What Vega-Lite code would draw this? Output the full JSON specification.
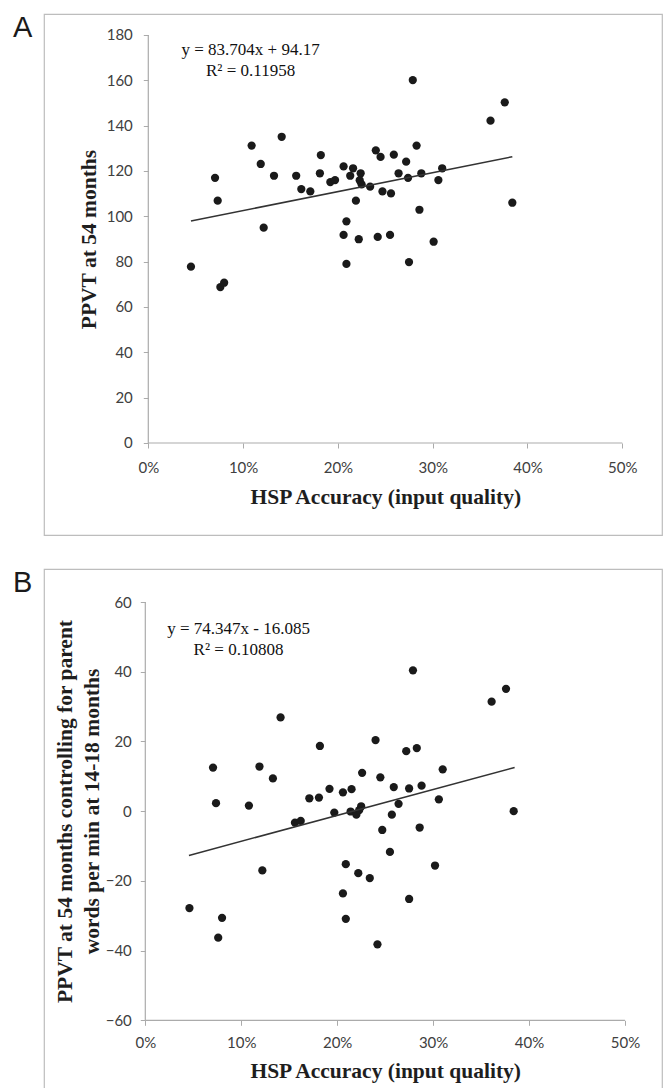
{
  "$schema": "https://vega.github.io/schema/vega-lite/v6.json",
  "padding": {"left": 12, "top": 13, "right": 5, "bottom": 2},
  "background": "white",
  "spacing": 32,
  "config": {
    "view": {"stroke": "#bdbdbd", "strokeWidth": 1.2},
    "axis": {
      "grid": false, "domain": false, "tickColor": "#ababab", "tickSize": 5, "tickWidth": 1,
      "labelFont": "Lato", "labelFontSize": 15, "labelColor": "#404040",
      "titleFont": "Liberation Serif", "titleFontWeight": "bold", "titleFontSize": 21.5, "titleColor": "#1e1e1e"
    }
  },
  "datasets": {
    "ptsA": [
      {"x":0.0704,"y":117.0},{"x":0.0732,"y":106.9},{"x":0.109,"y":131.2},{"x":0.1186,"y":123.1},{"x":0.1407,"y":135.1},
      {"x":0.1326,"y":117.9},{"x":0.156,"y":117.9},{"x":0.1614,"y":112.0},{"x":0.1709,"y":111.0},{"x":0.182,"y":127.0},
      {"x":0.181,"y":119.0},{"x":0.192,"y":115.1},{"x":0.197,"y":116.0},{"x":0.206,"y":122.0},{"x":0.216,"y":121.2},
      {"x":0.213,"y":117.9},{"x":0.224,"y":119.0},{"x":0.223,"y":115.9},{"x":0.225,"y":114.1},{"x":0.234,"y":113.1},
      {"x":0.219,"y":106.9},{"x":0.240,"y":129.1},{"x":0.245,"y":126.2},{"x":0.259,"y":127.2},{"x":0.247,"y":111.0},
      {"x":0.256,"y":110.1},{"x":0.264,"y":119.0},{"x":0.272,"y":124.1},{"x":0.274,"y":117.0},{"x":0.279,"y":160.1},
      {"x":0.283,"y":131.2},{"x":0.288,"y":119.0},{"x":0.286,"y":102.9},{"x":0.306,"y":116.0},{"x":0.310,"y":121.2},
      {"x":0.361,"y":142.2},{"x":0.376,"y":150.3},{"x":0.384,"y":106.0},{"x":0.1217,"y":95.0},{"x":0.209,"y":97.8},
      {"x":0.206,"y":91.8},{"x":0.222,"y":89.9},{"x":0.242,"y":90.9},{"x":0.255,"y":91.8},{"x":0.301,"y":88.8},
      {"x":0.209,"y":79.0},{"x":0.275,"y":79.8},{"x":0.045,"y":77.8},{"x":0.076,"y":68.8},{"x":0.080,"y":70.7}
    ],
    "lineA": [{"x":0.045,"y":97.94},{"x":0.384,"y":126.31}],
    "ptsB": [
      {"x":0.0706,"y":12.5},{"x":0.0737,"y":2.3},{"x":0.119,"y":12.8},{"x":0.133,"y":9.4},{"x":0.141,"y":26.9},
      {"x":0.108,"y":1.6},{"x":0.171,"y":3.7},{"x":0.181,"y":3.9},{"x":0.182,"y":18.7},{"x":0.192,"y":6.4},
      {"x":0.206,"y":5.4},{"x":0.215,"y":6.3},{"x":0.226,"y":11.0},{"x":0.240,"y":20.4},{"x":0.245,"y":9.7},
      {"x":0.259,"y":6.9},{"x":0.272,"y":17.2},{"x":0.283,"y":18.1},{"x":0.275,"y":6.5},{"x":0.288,"y":7.3},
      {"x":0.310,"y":12.0},{"x":0.306,"y":3.4},{"x":0.279,"y":40.4},{"x":0.361,"y":31.4},{"x":0.376,"y":35.1},
      {"x":0.384,"y":0.0},{"x":0.197,"y":-0.4},{"x":0.214,"y":-0.1},{"x":0.220,"y":-1.0},{"x":0.225,"y":1.4},
      {"x":0.223,"y":0.3},{"x":0.257,"y":-1.0},{"x":0.264,"y":2.1},{"x":0.156,"y":-3.3},{"x":0.162,"y":-2.8},
      {"x":0.247,"y":-5.4},{"x":0.286,"y":-4.7},{"x":0.255,"y":-11.7},{"x":0.209,"y":-15.2},{"x":0.222,"y":-17.8},
      {"x":0.234,"y":-19.2},{"x":0.302,"y":-15.6},{"x":0.122,"y":-17.0},{"x":0.206,"y":-23.6},{"x":0.275,"y":-25.2},
      {"x":0.209,"y":-30.9},{"x":0.046,"y":-27.8},{"x":0.080,"y":-30.6},{"x":0.076,"y":-36.3},{"x":0.242,"y":-38.2}
    ],
    "lineB": [{"x":0.0455,"y":-12.70},{"x":0.385,"y":12.54}]
  },
  "vconcat": [
    {
      "width": 618,
      "height": 521,
      "layer": [
        {
          "data": {"name": "ptsA"},
          "mark": {"type": "circle", "size": 68, "color": "#1a1a1a", "opacity": 1},
          "encoding": {
            "x": {"field": "x", "type": "quantitative",
              "scale": {"domain": [-0.11002, 0.54188], "nice": false, "zero": false},
              "axis": {"values": [0, 0.1, 0.2, 0.3, 0.4, 0.5], "format": ".0%", "offset": -92, "labelPadding": 12, "titlePadding": 11, "titleX": 341.3, "title": "HSP Accuracy (input quality)"}},
            "y": {"field": "y", "type": "quantitative",
              "scale": {"domain": [-40.59, 189.26], "nice": false, "zero": false},
              "axis": {"values": [0, 20, 40, 60, 80, 100, 120, 140, 160, 180], "offset": -104.3, "labelPadding": 11, "titlePadding": 6, "titleY": 225, "title": "PPVT at 54 months"}}
          }
        },
        {
          "data": {"name": "lineA"},
          "mark": {"type": "line", "color": "#333333", "strokeWidth": 1.5},
          "encoding": {"x": {"field": "x", "type": "quantitative"}, "y": {"field": "y", "type": "quantitative"}}
        },
        {
          "data": {"values": [{}]},
          "mark": {"type": "rule", "color": "#ababab", "strokeWidth": 1.2},
          "encoding": {"x": {"datum": 0}, "y": {"datum": 0}, "y2": {"datum": 180}}
        },
        {
          "data": {"values": [{}]},
          "mark": {"type": "rule", "color": "#ababab", "strokeWidth": 1.2},
          "encoding": {"x": {"datum": 0}, "x2": {"datum": 0.5}, "y": {"datum": 0}}
        },
        {
          "data": {"values": [{}]},
          "mark": {"type": "text", "align": "center", "baseline": "alphabetic", "font": "Liberation Serif", "fontSize": 17, "lineHeight": 21.3, "color": "#111111",
            "text": ["y = 83.704x + 94.17", "R² = 0.11958"]},
          "encoding": {"x": {"datum": 0.1079}, "y": {"datum": 171.35}}
        },
        {
          "data": {"values": [{}]},
          "mark": {"type": "text", "align": "left", "baseline": "top", "font": "Liberation Sans", "fontSize": 29, "color": "#1a1a1a", "text": "A"},
          "encoding": {"x": {"datum": -0.14272}, "y": {"datum": 189.26}}
        }
      ]
    },
    {
      "width": 618,
      "height": 520,
      "layer": [
        {
          "data": {"name": "ptsB"},
          "mark": {"type": "circle", "size": 68, "color": "#1a1a1a", "opacity": 1},
          "encoding": {
            "x": {"field": "x", "type": "quantitative",
              "scale": {"domain": [-0.1056, 0.5386], "nice": false, "zero": false},
              "axis": {"values": [0, 0.1, 0.2, 0.3, 0.4, 0.5], "format": ".0%", "offset": -68.7, "labelPadding": 10, "titlePadding": 10, "titleX": 341.2, "title": "HSP Accuracy (input quality)"}},
            "y": {"field": "y", "type": "quantitative",
              "scale": {"domain": [-79.71, 69.47], "nice": false, "zero": false},
              "axis": {"values": [-60, -40, -20, 0, 20, 40, 60], "offset": -101.3, "labelPadding": 9, "titlePadding": 2, "titleLineHeight": 27, "titleY": 242,
                "title": ["PPVT at 54 months controlling for parent", "words per min at 14-18 months"]}}
          }
        },
        {
          "data": {"name": "lineB"},
          "mark": {"type": "line", "color": "#333333", "strokeWidth": 1.5},
          "encoding": {"x": {"field": "x", "type": "quantitative"}, "y": {"field": "y", "type": "quantitative"}}
        },
        {
          "data": {"values": [{}]},
          "mark": {"type": "rule", "color": "#ababab", "strokeWidth": 1.2},
          "encoding": {"x": {"datum": 0}, "y": {"datum": -60}, "y2": {"datum": 60}}
        },
        {
          "data": {"values": [{}]},
          "mark": {"type": "rule", "color": "#ababab", "strokeWidth": 1.2},
          "encoding": {"x": {"datum": 0}, "x2": {"datum": 0.5}, "y": {"datum": -60}}
        },
        {
          "data": {"values": [{}]},
          "mark": {"type": "text", "align": "center", "baseline": "alphabetic", "font": "Liberation Serif", "fontSize": 17, "lineHeight": 21.7, "color": "#111111",
            "text": ["y = 74.347x - 16.085", "R² = 0.10808"]},
          "encoding": {"x": {"datum": 0.09715}, "y": {"datum": 50.89}}
        },
        {
          "data": {"values": [{}]},
          "mark": {"type": "text", "align": "left", "baseline": "top", "font": "Liberation Sans", "fontSize": 29, "color": "#1a1a1a", "text": "B"},
          "encoding": {"x": {"datum": -0.1379}, "y": {"datum": 69.47}}
        }
      ]
    }
  ]
}
